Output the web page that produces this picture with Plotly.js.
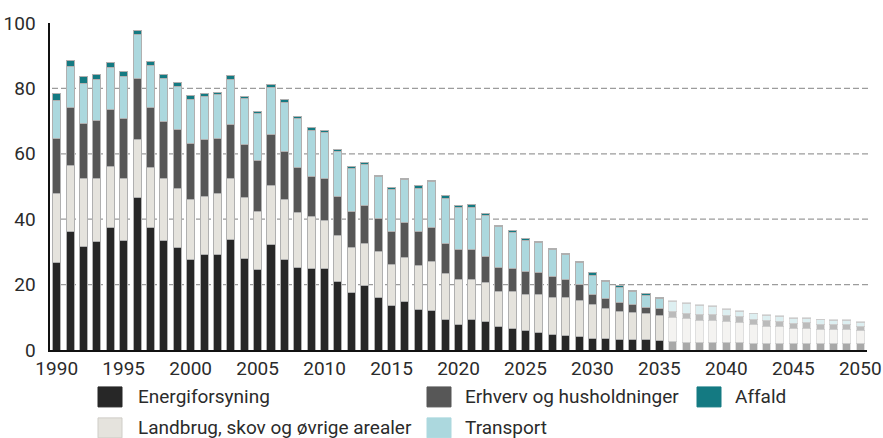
<!DOCTYPE html>
<html>
<head>
<meta charset="utf-8">
<script src="https://cdn.plot.ly/plotly-3.0.1.min.js"></script>
<style>
  html, body { margin: 0; padding: 0; background: #ffffff; }
  #chart { width: 883px; height: 438px; }
</style>
</head>
<body>
<div id="chart"></div>
<script>
const years = [1990,1991,1992,1993,1994,1995,1996,1997,1998,1999,
  2000,2001,2002,2003,2004,2005,2006,2007,2008,2009,
  2010,2011,2012,2013,2014,2015,2016,2017,2018,2019,
  2020,2021,2022,2023,2024,2025,2026,2027,2028,2029,
  2030,2031,2032,2033,2034,2035,2036,2037,2038,2039,
  2040,2041,2042,2043,2044,2045,2046,2047,2048,2049,2050];

const xTickYears = [1990,1995,2000,2005,2010,2015,2020,2025,2030,2035,2040,2045,2050];
const yTickValues = [0,20,40,60,80,100];
const gridValues = [20,40,60,80];
const projectionFrom = 2036;

const energiforsyning = [26.9,36.2,31.6,33.1,37.5,33.5,46.5,37.5,33.5,31.2,
  27.6,29.1,29.1,33.9,27.9,24.6,32.3,27.6,25.3,24.9,
  24.9,20.9,17.6,19.7,16.2,13.6,14.8,12.4,12.0,9.3,
  7.7,9.3,8.8,7.2,6.5,5.9,5.5,4.7,4.4,4.0,
  3.6,3.6,3.2,3.2,3.2,2.8,2.5,2.3,2.3,2.3,
  2.3,2.3,2.0,2.0,2.0,2.0,2.0,2.0,2.0,2.0,2.0];

const landbrug = [21.1,20.3,20.7,19.5,18.7,19.1,18.0,18.3,18.8,18.3,
  18.4,17.7,18.9,18.4,18.6,17.9,18.0,18.4,16.8,16.0,
  14.8,14.1,13.6,13.0,13.9,12.5,13.6,13.3,15.2,14.1,
  14.0,12.4,11.8,10.7,11.4,11.0,11.4,11.5,11.8,11.0,
  10.3,9.1,8.6,8.2,7.9,7.9,7.5,7.2,6.8,6.8,
  6.4,6.1,5.9,5.2,5.1,4.7,4.7,4.3,4.3,4.3,3.9];

const erhverv = [16.7,17.7,17.1,17.7,17.2,18.1,18.6,18.4,17.5,18.0,
  17.2,17.6,16.7,16.7,16.3,15.6,15.7,14.8,13.6,12.1,
  12.9,11.8,11.2,11.4,10.0,10.0,10.5,10.4,10.2,9.3,
  9.0,9.0,8.1,7.3,7.0,7.1,6.7,6.2,5.4,5.0,
  3.0,3.1,2.8,2.5,2.0,2.0,1.8,1.7,1.7,1.7,
  1.7,1.7,1.4,1.7,1.5,1.5,1.7,1.5,1.4,1.4,1.4];

const transport = [11.7,12.4,12.1,12.4,12.9,13.0,13.3,12.8,13.2,13.2,
  13.3,13.0,13.3,13.7,14.2,14.2,14.4,15.0,15.1,14.2,
  13.9,13.8,13.1,12.5,13.0,12.9,13.3,13.3,14.0,13.7,
  12.8,13.0,12.5,12.6,10.9,9.5,9.3,8.3,7.6,6.8,
  6.0,5.1,4.4,3.9,3.5,3.1,3.0,3.1,2.8,2.5,
  1.9,1.8,1.8,1.7,1.6,1.4,1.2,1.4,1.3,1.3,1.2];

const affald = [2.0,2.0,2.1,1.6,1.5,1.4,1.3,1.3,1.3,1.2,
  1.2,1.0,0.8,1.3,0.6,0.7,0.8,0.7,0.7,0.7,
  0.6,0.6,0.7,0.8,0.4,0.8,0.4,0.9,0.4,0.7,
  0.7,0.7,0.4,0.4,0.7,0.7,0.3,0.3,0.3,0.3,
  0.7,0.3,0.7,0.3,0.6,0.4,0.3,0.2,0.2,0.2,
  0.3,0.2,0.2,0.2,0.2,0.2,0.2,0.2,0.2,0.2,0.2];

const seriesNames = ["Energiforsyning","Landbrug, skov og øvrige arealer","Erhverv og husholdninger","Transport","Affald"];
const seriesColors = ["#272727","#e5e3dd","#575757","#acd8de","#147a82"];
const seriesData = [energiforsyning, landbrug, erhverv, transport, affald];

const FONT = "Roboto, 'Noto Sans', sans-serif";
const TEXT = "#2b2b2b";

const opac = years.map(y => y >= projectionFrom ? 0.4 : 1);

const traces = seriesData.map((vals, i) => ({
  type: "bar",
  x: years,
  y: vals,
  name: seriesNames[i],
  width: 0.6,
  marker: {
    color: seriesColors[i],
    opacity: opac,
    line: { color: "#b0b0b0", width: 1 }
  },
  showlegend: false,
  hoverinfo: "x+y+name"
}));

// plot-area geometry (pixels)
const W = 883, H = 438;
const M = { l: 50, r: 16, t: 22.5, b: 88 };
const pw = W - M.l - M.r, ph = H - M.t - M.b;
const px = x => (x - M.l) / pw;
const py = y => (H - M.b - y) / ph;

const shapes = [];
const annotations = [];

// dashed horizontal gridlines (below the bars)
gridValues.forEach(v => {
  shapes.push({
    type: "line", layer: "below",
    xref: "paper", yref: "y",
    x0: px(52), x1: px(870), y0: v, y1: v,
    line: { color: "#9c9c9c", width: 1.3, dash: "6px,3px" }
  });
});

// legend layout: [swatch x, text x, row center y]
const legendOrder = [
  { idx: 0, sx: 98,  tx: 136, cy: 397 },
  { idx: 2, sx: 427, tx: 463, cy: 397 },
  { idx: 4, sx: 697, tx: 733, cy: 397 },
  { idx: 1, sx: 98,  tx: 136, cy: 428 },
  { idx: 3, sx: 427, tx: 463, cy: 428 }
];
const SW = 24, SH = 20;
legendOrder.forEach(e => {
  shapes.push({
    type: "rect", xref: "paper", yref: "paper",
    x0: px(e.sx), x1: px(e.sx + SW),
    y0: py(e.cy - SH / 2), y1: py(e.cy + SH / 2),
    fillcolor: seriesColors[e.idx],
    line: { color: e.idx === 1 ? "#cfcdc7" : seriesColors[e.idx], width: 1 }
  });
  annotations.push({
    xref: "paper", yref: "paper",
    x: px(e.tx), y: py(e.cy),
    xanchor: "left", yanchor: "middle",
    text: seriesNames[e.idx], showarrow: false,
    font: { family: FONT, size: 19, color: TEXT }
  });
});

const layout = {
  width: W, height: H,
  margin: M,
  paper_bgcolor: "#ffffff",
  plot_bgcolor: "rgba(0,0,0,0)",
  barmode: "stack",
  bargap: 0.4,
  showlegend: false,
  font: { family: FONT, size: 19, color: TEXT },
  xaxis: {
    range: [1989.5, 2050.5],
    tickmode: "array",
    tickvals: xTickYears,
    ticktext: xTickYears.map(String),
    showgrid: false, zeroline: false,
    showline: true, linecolor: "#111111", linewidth: 2.2,
    ticks: "", ticklabelstandoff: 0,
    tickfont: { family: FONT, size: 19, color: TEXT },
    fixedrange: true
  },
  yaxis: {
    range: [0, 100],
    tickmode: "array",
    tickvals: yTickValues,
    ticktext: yTickValues.map(String),
    showgrid: false, zeroline: false,
    showline: true, linecolor: "#111111", linewidth: 1.6,
    ticks: "", ticklabelstandoff: 9,
    tickfont: { family: FONT, size: 19, color: TEXT },
    fixedrange: true
  },
  shapes: shapes,
  annotations: annotations
};

Plotly.newPlot("chart", traces, layout, { displayModeBar: false, staticPlot: true });
</script>
</body>
</html>
